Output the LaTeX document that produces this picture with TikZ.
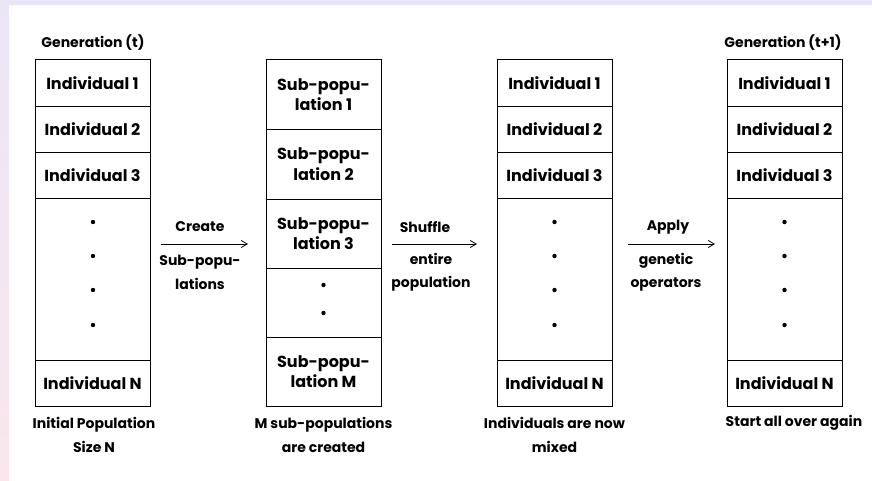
\documentclass[tikz,border=0pt]{standalone}
\usepackage{fontspec}
\setmainfont{Poppins}
\usetikzlibrary{arrows.meta}
\definecolor{bandtop}{HTML}{EBE6F7}
\definecolor{bandbot}{HTML}{FBE6EC}
\tikzset{
  cell/.style={draw=black, line width=0.9pt, minimum width=115pt, inner sep=0pt, anchor=north, font=\fontsize{16}{20.5}\selectfont\bfseries, align=center},
  lbl/.style={font=\fontsize{14}{23.5}\selectfont\bfseries, align=center, inner sep=0pt},
  flow/.style={line width=0.8pt, -{Straight Barb[length=6pt,width=7pt]}},
  dot/.style={fill=black}
}
\begin{document}
\begin{tikzpicture}[x=1pt,y=-1pt]
\useasboundingbox (0,0) rectangle (872,481);
\shade[top color=bandtop, bottom color=bandbot] (0,0) rectangle (9,481);
\fill[bandtop] (0,0) rectangle (872,5);
\fill[white] (9,5) rectangle (872,481);

% column 1
\node[lbl] (g1) at (93,43) {Generation (t)};
\node[cell, minimum height=46.5pt] (a1) at (92.5,59.5) {Individual 1};
\node[cell, minimum height=46pt] (a2) at (92.5,106) {Individual 2};
\node[cell, minimum height=46pt] (a3) at (92.5,152) {Individual 3};
\node[cell, minimum height=162pt] (a4) at (92.5,198) {};
\node[cell, minimum height=46pt] (a5) at (92.5,360) {Individual N};
\foreach \yy in {222,256,290,325} \fill[dot] (93,\yy) circle (2.2);
\node[lbl] (b1) at (94,435) {Initial Population\\Size N};

% column 2
\node[cell, minimum height=69.5pt] (s1) at (323.5,59.5) {Sub-popu-\\lation 1};
\node[cell, minimum height=69.5pt] (s2) at (323.5,129) {Sub-popu-\\lation 2};
\node[cell, minimum height=69pt] (s3) at (323.5,198.5) {Sub-popu-\\lation 3};
\node[cell, minimum height=69pt] (s4) at (323.5,267.5) {};
\node[cell, minimum height=69.5pt] (s5) at (323.5,336.5) {Sub-popu-\\lation M};
\foreach \yy in {285,313} \fill[dot] (323.5,\yy) circle (2.2);
\node[lbl] (b2) at (323.5,435) {M sub-populations\\are created};

% column 3
\node[cell, minimum height=46.5pt] (m1) at (554.5,59.5) {Individual 1};
\node[cell, minimum height=46pt] (m2) at (554.5,106) {Individual 2};
\node[cell, minimum height=46pt] (m3) at (554.5,152) {Individual 3};
\node[cell, minimum height=162pt] (m4) at (554.5,198) {};
\node[cell, minimum height=46pt] (m5) at (554.5,360) {Individual N};
\foreach \yy in {222,256,290,325} \fill[dot] (554.5,\yy) circle (2.2);
\node[lbl] (b3) at (554.5,435) {Individuals are now\\mixed};

% column 4
\node[lbl] (g4) at (783,43) {Generation (t+1)};
\node[cell, minimum height=46.5pt] (n1) at (784.5,59.5) {Individual 1};
\node[cell, minimum height=46pt] (n2) at (784.5,106) {Individual 2};
\node[cell, minimum height=46pt] (n3) at (784.5,152) {Individual 3};
\node[cell, minimum height=162pt] (n4) at (784.5,198) {};
\node[cell, minimum height=46pt] (n5) at (784.5,360) {Individual N};
\foreach \yy in {222,256,290,325} \fill[dot] (784.5,\yy) circle (2.2);
\node[lbl] (b4) at (794,423) {Start all over again};

% arrows
\coordinate (p1s) at (161,244); \coordinate (p1e) at (248,244);
\coordinate (p2s) at (392,244); \coordinate (p2e) at (477,244);
\coordinate (p3s) at (628,244); \coordinate (p3e) at (715,244);
\draw[flow] (p1s) -- (p1e);
\draw[flow] (p2s) -- (p2e);
\draw[flow] (p3s) -- (p3e);
\node[lbl] (t1) at (200,227) {Create};
\node[lbl] (u1) at (200,272.5) {Sub-popu-\\lations};
\node[lbl] (t2) at (425,227) {Shuffle};
\node[lbl] (u2) at (431,272.5) {entire\\population};
\node[lbl] (t3) at (668,227) {Apply};
\node[lbl] (u3) at (666,272.5) {genetic\\operators};
\end{tikzpicture}
\end{document}
